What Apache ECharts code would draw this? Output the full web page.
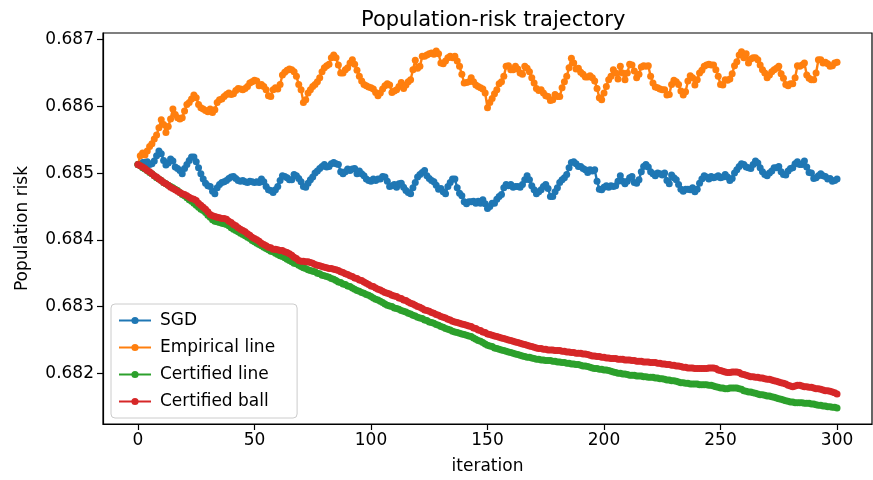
<!DOCTYPE html>
<html>
<head>
<meta charset="utf-8">
<title>Population-risk trajectory</title>
<script src="https://cdn.jsdelivr.net/npm/echarts@6/dist/echarts.min.js"></script>
<style>
  html, body { margin: 0; padding: 0; background: #fff; }
  #chart { width: 873px; height: 480px; }
</style>
</head>
<body>
<div id="chart"></div>
<script>
// iteration index 0..300
const iterations = Array.from({ length: 301 }, (_, i) => i)

const sgd = [
  0.68513,0.68514,0.68516,0.68516,0.68517,0.68513,0.68514,0.68518,0.68526,0.68533,
  0.68529,0.68519,0.68512,0.68515,0.68521,0.68518,0.68509,0.68507,0.68504,0.68499,
  0.68507,0.68513,0.68519,0.68524,0.68524,0.68517,0.68508,0.68499,0.68491,0.68485,
  0.68481,0.68480,0.68473,0.68469,0.68478,0.68483,0.68486,0.68487,0.68489,0.68492,
  0.68494,0.68495,0.68492,0.68489,0.68488,0.68489,0.68487,0.68486,0.68488,0.68487,
  0.68486,0.68487,0.68486,0.68491,0.68487,0.68480,0.68475,0.68474,0.68471,0.68475,
  0.68480,0.68489,0.68496,0.68495,0.68493,0.68490,0.68490,0.68498,0.68496,0.68492,
  0.68487,0.68480,0.68479,0.68485,0.68490,0.68494,0.68500,0.68503,0.68507,0.68510,
  0.68513,0.68509,0.68510,0.68514,0.68516,0.68514,0.68513,0.68502,0.68499,0.68502,
  0.68506,0.68504,0.68506,0.68507,0.68499,0.68503,0.68499,0.68496,0.68491,0.68489,
  0.68488,0.68491,0.68489,0.68491,0.68491,0.68495,0.68494,0.68488,0.68480,0.68481,
  0.68483,0.68479,0.68484,0.68485,0.68479,0.68474,0.68471,0.68469,0.68478,0.68486,
  0.68494,0.68498,0.68501,0.68504,0.68496,0.68492,0.68489,0.68487,0.68482,0.68476,
  0.68477,0.68472,0.68469,0.68480,0.68486,0.68491,0.68491,0.68478,0.68470,0.68466,
  0.68457,0.68454,0.68457,0.68457,0.68458,0.68455,0.68458,0.68455,0.68460,0.68454,
  0.68447,0.68450,0.68455,0.68455,0.68461,0.68465,0.68468,0.68478,0.68483,0.68481,
  0.68483,0.68479,0.68480,0.68480,0.68479,0.68483,0.68490,0.68496,0.68490,0.68481,
  0.68475,0.68469,0.68472,0.68475,0.68480,0.68483,0.68477,0.68465,0.68465,0.68472,
  0.68478,0.68486,0.68490,0.68493,0.68498,0.68508,0.68516,0.68517,0.68514,0.68510,
  0.68510,0.68507,0.68505,0.68501,0.68505,0.68503,0.68505,0.68488,0.68476,0.68475,
  0.68479,0.68481,0.68479,0.68481,0.68480,0.68481,0.68488,0.68496,0.68488,0.68484,
  0.68488,0.68493,0.68495,0.68486,0.68485,0.68490,0.68502,0.68510,0.68513,0.68509,
  0.68502,0.68499,0.68496,0.68500,0.68499,0.68497,0.68500,0.68489,0.68484,0.68497,
  0.68493,0.68490,0.68483,0.68476,0.68473,0.68476,0.68476,0.68475,0.68478,0.68472,
  0.68476,0.68485,0.68491,0.68496,0.68494,0.68491,0.68495,0.68493,0.68494,0.68496,
  0.68493,0.68494,0.68498,0.68494,0.68489,0.68492,0.68500,0.68505,0.68510,0.68514,
  0.68513,0.68509,0.68508,0.68507,0.68513,0.68518,0.68515,0.68508,0.68502,0.68498,
  0.68496,0.68500,0.68503,0.68508,0.68508,0.68510,0.68502,0.68498,0.68497,0.68503,
  0.68507,0.68508,0.68514,0.68517,0.68513,0.68513,0.68518,0.68509,0.68501,0.68500,
  0.68492,0.68493,0.68496,0.68499,0.68496,0.68495,0.68491,0.68492,0.68488,0.68489,
  0.68491
]

const empiricalLine = [
  0.68513,0.68526,0.68530,0.68527,0.68533,0.68540,0.68544,0.68551,0.68557,0.68568,
  0.68580,0.68573,0.68561,0.68570,0.68581,0.68596,0.68588,0.68583,0.68581,0.68583,
  0.68593,0.68603,0.68606,0.68611,0.68617,0.68613,0.68603,0.68598,0.68596,0.68594,
  0.68592,0.68596,0.68591,0.68595,0.68606,0.68610,0.68611,0.68615,0.68618,0.68620,
  0.68618,0.68619,0.68624,0.68627,0.68626,0.68625,0.68627,0.68630,0.68635,0.68637,
  0.68639,0.68638,0.68631,0.68633,0.68630,0.68625,0.68616,0.68615,0.68625,0.68628,
  0.68626,0.68633,0.68647,0.68651,0.68654,0.68656,0.68655,0.68652,0.68645,0.68633,
  0.68625,0.68606,0.68610,0.68620,0.68625,0.68630,0.68633,0.68637,0.68643,0.68652,
  0.68658,0.68661,0.68663,0.68673,0.68677,0.68673,0.68662,0.68650,0.68650,0.68655,
  0.68658,0.68665,0.68670,0.68663,0.68654,0.68645,0.68638,0.68633,0.68631,0.68629,
  0.68628,0.68626,0.68621,0.68616,0.68620,0.68626,0.68631,0.68634,0.68632,0.68621,
  0.68623,0.68625,0.68630,0.68636,0.68627,0.68632,0.68637,0.68640,0.68655,0.68669,
  0.68657,0.68660,0.68675,0.68675,0.68677,0.68679,0.68680,0.68678,0.68683,0.68679,
  0.68665,0.68664,0.68668,0.68673,0.68675,0.68673,0.68675,0.68668,0.68660,0.68648,
  0.68635,0.68636,0.68637,0.68643,0.68637,0.68632,0.68630,0.68628,0.68626,0.68620,
  0.68598,0.68606,0.68612,0.68619,0.68625,0.68634,0.68637,0.68645,0.68660,0.68661,
  0.68655,0.68655,0.68660,0.68656,0.68650,0.68648,0.68660,0.68657,0.68652,0.68643,
  0.68635,0.68627,0.68624,0.68625,0.68620,0.68616,0.68615,0.68609,0.68610,0.68618,
  0.68615,0.68615,0.68628,0.68637,0.68645,0.68658,0.68672,0.68665,0.68656,0.68657,
  0.68651,0.68648,0.68644,0.68644,0.68646,0.68643,0.68638,0.68627,0.68613,0.68610,
  0.68620,0.68630,0.68640,0.68645,0.68655,0.68650,0.68641,0.68660,0.68650,0.68640,
  0.68650,0.68663,0.68662,0.68653,0.68643,0.68648,0.68659,0.68661,0.68660,0.68661,
  0.68645,0.68635,0.68629,0.68628,0.68626,0.68625,0.68625,0.68617,0.68618,0.68633,
  0.68639,0.68637,0.68633,0.68623,0.68617,0.68622,0.68638,0.68646,0.68643,0.68632,
  0.68640,0.68650,0.68654,0.68660,0.68662,0.68663,0.68662,0.68662,0.68655,0.68645,
  0.68633,0.68632,0.68640,0.68639,0.68641,0.68649,0.68661,0.68667,0.68677,0.68682,
  0.68673,0.68679,0.68665,0.68671,0.68673,0.68673,0.68670,0.68662,0.68655,0.68650,
  0.68643,0.68647,0.68652,0.68655,0.68657,0.68660,0.68649,0.68642,0.68633,0.68631,
  0.68634,0.68634,0.68643,0.68661,0.68660,0.68662,0.68665,0.68647,0.68642,0.68640,
  0.68640,0.68650,0.68670,0.68670,0.68665,0.68666,0.68664,0.68660,0.68661,0.68665,
  0.68666
]

const certifiedLine = [
  0.68513,0.68511,0.68508,0.68506,0.68504,0.68501,0.68499,0.68496,0.68493,0.68491,
  0.68489,0.68486,0.68484,0.68482,0.68480,0.68478,0.68476,0.68474,0.68471,0.68468,
  0.68466,0.68463,0.68460,0.68458,0.68455,0.68452,0.68449,0.68446,0.68444,0.68441,
  0.68437,0.68434,0.68430,0.68428,0.68427,0.68426,0.68425,0.68424,0.68423,0.68421,
  0.68418,0.68416,0.68414,0.68412,0.68410,0.68408,0.68406,0.68404,0.68402,0.68399,
  0.68397,0.68395,0.68393,0.68391,0.68389,0.68387,0.68385,0.68383,0.68382,0.68380,
  0.68378,0.68376,0.68375,0.68373,0.68371,0.68369,0.68367,0.68365,0.68364,0.68362,
  0.68360,0.68358,0.68357,0.68355,0.68354,0.68353,0.68352,0.68350,0.68349,0.68347,
  0.68346,0.68345,0.68344,0.68342,0.68341,0.68339,0.68337,0.68336,0.68334,0.68333,
  0.68331,0.68330,0.68328,0.68326,0.68324,0.68323,0.68321,0.68320,0.68318,0.68317,
  0.68315,0.68313,0.68311,0.68310,0.68308,0.68306,0.68304,0.68302,0.68301,0.68300,
  0.68298,0.68297,0.68296,0.68294,0.68293,0.68292,0.68290,0.68289,0.68287,0.68286,
  0.68284,0.68283,0.68282,0.68280,0.68279,0.68277,0.68276,0.68275,0.68273,0.68272,
  0.68270,0.68269,0.68267,0.68266,0.68265,0.68263,0.68262,0.68261,0.68260,0.68259,
  0.68258,0.68257,0.68256,0.68255,0.68253,0.68251,0.68249,0.68248,0.68246,0.68244,
  0.68242,0.68241,0.68240,0.68238,0.68237,0.68236,0.68235,0.68234,0.68233,0.68232,
  0.68231,0.68230,0.68229,0.68228,0.68227,0.68226,0.68225,0.68224,0.68224,0.68223,
  0.68222,0.68221,0.68221,0.68220,0.68220,0.68219,0.68219,0.68219,0.68218,0.68218,
  0.68217,0.68217,0.68216,0.68216,0.68215,0.68215,0.68214,0.68214,0.68213,0.68213,
  0.68212,0.68211,0.68211,0.68210,0.68209,0.68208,0.68207,0.68207,0.68206,0.68206,
  0.68205,0.68205,0.68204,0.68203,0.68202,0.68201,0.68200,0.68200,0.68199,0.68199,
  0.68198,0.68197,0.68197,0.68197,0.68196,0.68196,0.68196,0.68195,0.68195,0.68194,
  0.68194,0.68194,0.68193,0.68193,0.68192,0.68192,0.68191,0.68190,0.68190,0.68189,
  0.68189,0.68188,0.68187,0.68186,0.68186,0.68185,0.68185,0.68184,0.68184,0.68184,
  0.68184,0.68183,0.68183,0.68183,0.68183,0.68182,0.68182,0.68181,0.68180,0.68179,
  0.68178,0.68178,0.68177,0.68177,0.68178,0.68178,0.68178,0.68178,0.68177,0.68176,
  0.68174,0.68173,0.68172,0.68172,0.68171,0.68170,0.68169,0.68168,0.68168,0.68167,
  0.68166,0.68166,0.68165,0.68164,0.68163,0.68162,0.68161,0.68160,0.68159,0.68158,
  0.68157,0.68157,0.68156,0.68156,0.68156,0.68156,0.68155,0.68155,0.68155,0.68154,
  0.68154,0.68153,0.68152,0.68152,0.68151,0.68151,0.68150,0.68150,0.68149,0.68149,
  0.68148
]

const certifiedBall = [
  0.68513,0.68511,0.68509,0.68507,0.68504,0.68502,0.68499,0.68496,0.68494,0.68491,
  0.68489,0.68486,0.68484,0.68482,0.68479,0.68477,0.68475,0.68473,0.68471,0.68469,
  0.68468,0.68466,0.68464,0.68462,0.68461,0.68459,0.68455,0.68452,0.68449,0.68446,
  0.68442,0.68438,0.68436,0.68435,0.68434,0.68433,0.68432,0.68432,0.68431,0.68428,
  0.68426,0.68423,0.68421,0.68418,0.68416,0.68414,0.68412,0.68409,0.68407,0.68404,
  0.68402,0.68400,0.68398,0.68395,0.68393,0.68391,0.68389,0.68388,0.68386,0.68386,
  0.68385,0.68384,0.68384,0.68382,0.68381,0.68379,0.68377,0.68374,0.68372,0.68369,
  0.68368,0.68368,0.68367,0.68367,0.68366,0.68365,0.68363,0.68362,0.68361,0.68360,
  0.68359,0.68358,0.68357,0.68357,0.68356,0.68355,0.68354,0.68352,0.68351,0.68349,
  0.68348,0.68346,0.68345,0.68343,0.68342,0.68340,0.68339,0.68337,0.68335,0.68333,
  0.68331,0.68330,0.68328,0.68326,0.68325,0.68323,0.68321,0.68320,0.68319,0.68317,
  0.68316,0.68315,0.68313,0.68312,0.68310,0.68309,0.68307,0.68305,0.68304,0.68302,
  0.68300,0.68299,0.68297,0.68295,0.68294,0.68293,0.68291,0.68290,0.68288,0.68287,
  0.68285,0.68284,0.68283,0.68281,0.68280,0.68278,0.68277,0.68276,0.68275,0.68274,
  0.68273,0.68272,0.68271,0.68270,0.68268,0.68267,0.68265,0.68264,0.68262,0.68261,
  0.68259,0.68258,0.68257,0.68256,0.68255,0.68254,0.68253,0.68252,0.68251,0.68250,
  0.68249,0.68248,0.68247,0.68246,0.68245,0.68244,0.68243,0.68242,0.68241,0.68240,
  0.68239,0.68238,0.68237,0.68237,0.68236,0.68236,0.68235,0.68235,0.68235,0.68234,
  0.68234,0.68234,0.68233,0.68233,0.68232,0.68232,0.68231,0.68231,0.68230,0.68230,
  0.68230,0.68229,0.68229,0.68228,0.68227,0.68226,0.68226,0.68225,0.68225,0.68224,
  0.68224,0.68223,0.68223,0.68222,0.68222,0.68222,0.68221,0.68221,0.68221,0.68220,
  0.68220,0.68220,0.68219,0.68219,0.68218,0.68218,0.68218,0.68217,0.68217,0.68217,
  0.68216,0.68216,0.68216,0.68215,0.68215,0.68214,0.68214,0.68213,0.68213,0.68212,
  0.68212,0.68211,0.68211,0.68210,0.68209,0.68209,0.68208,0.68208,0.68208,0.68207,
  0.68207,0.68207,0.68207,0.68207,0.68207,0.68208,0.68208,0.68208,0.68207,0.68205,
  0.68204,0.68203,0.68202,0.68201,0.68201,0.68202,0.68202,0.68202,0.68201,0.68199,
  0.68198,0.68197,0.68196,0.68195,0.68195,0.68194,0.68194,0.68193,0.68193,0.68192,
  0.68191,0.68191,0.68190,0.68189,0.68188,0.68187,0.68186,0.68185,0.68184,0.68182,
  0.68181,0.68180,0.68181,0.68182,0.68182,0.68181,0.68180,0.68180,0.68179,0.68179,
  0.68178,0.68177,0.68177,0.68176,0.68175,0.68174,0.68174,0.68173,0.68172,0.68171,
  0.68169
]

const xTicks = [0, 50, 100, 150, 200, 250, 300]
const yTicks = [0.682, 0.683, 0.684, 0.685, 0.686, 0.687]

const seriesNames = ["SGD", "Empirical line", "Certified line", "Certified ball"]
const seriesColors = ["#1f77b4", "#ff7f0e", "#2ca02c", "#d62728"]
const seriesValues = [sgd, empiricalLine, certifiedLine, certifiedBall]

const font = "DejaVu Sans"
const ins = echarts.init(document.getElementById("chart"), null, { renderer: "canvas" })

ins.setOption({
  animation: false,
  backgroundColor: "#fff",
  title: {
    text: "Population-risk trajectory",
    left: 356,
    top: 5,
    textStyle: { fontFamily: font, fontSize: 21, fontWeight: "normal", color: "#000" }
  },
  grid: {
    left: 103,
    right: 1,
    top: 33,
    bottom: 54,
    show: true,
    borderColor: "#000",
    borderWidth: 1.2
  },
  legend: {
    orient: "vertical",
    left: 111,
    top: 304,
    padding: [8, 22, 8, 7],
    itemWidth: 32,
    itemHeight: 9,
    itemGap: 10,
    backgroundColor: "rgba(255,255,255,0.8)",
    borderColor: "#cccccc",
    borderWidth: 1,
    borderRadius: 4,
    textStyle: { fontFamily: font, fontSize: 17, color: "#000", padding: [0, 0, 0, 4] },
    data: seriesNames
  },
  xAxis: {
    type: "value",
    min: -15,
    max: 315,
    name: "iteration",
    nameLocation: "middle",
    nameGap: 34,
    nameTextStyle: { fontFamily: font, fontSize: 17, color: "#000" },
    axisLine: { show: true, onZero: false, lineStyle: { color: "#000", width: 1.2 } },
    axisTick: { show: true, length: 6, lineStyle: { color: "#000", width: 1.2 }, customValues: xTicks },
    axisLabel: { fontFamily: font, fontSize: 17, color: "#000", margin: 8, customValues: xTicks },
    splitLine: { show: false }
  },
  yAxis: {
    type: "value",
    min: 0.68124,
    max: 0.68710,
    name: "Population risk",
    nameLocation: "middle",
    nameGap: 72,
    nameTextStyle: { fontFamily: font, fontSize: 17, color: "#000" },
    axisLine: { show: true, onZero: false, lineStyle: { color: "#000", width: 1.2 } },
    axisTick: { show: true, length: 6, lineStyle: { color: "#000", width: 1.2 }, customValues: yTicks },
    axisLabel: {
      fontFamily: font, fontSize: 17, color: "#000", margin: 9,
      customValues: yTicks,
      formatter: v => v.toFixed(3)
    },
    splitLine: { show: false }
  },
  series: seriesNames.map((name, k) => ({
    name: name,
    type: "line",
    data: iterations.map((it, i) => [it, seriesValues[k][i]]),
    symbol: "circle",
    symbolSize: 7,
    showSymbol: true,
    showAllSymbol: true,
    color: seriesColors[k],
    itemStyle: { color: seriesColors[k], borderWidth: 0 },
    lineStyle: { color: seriesColors[k], width: 2.4 },
    z: 2 + k
  }))
})
</script>
</body>
</html>
